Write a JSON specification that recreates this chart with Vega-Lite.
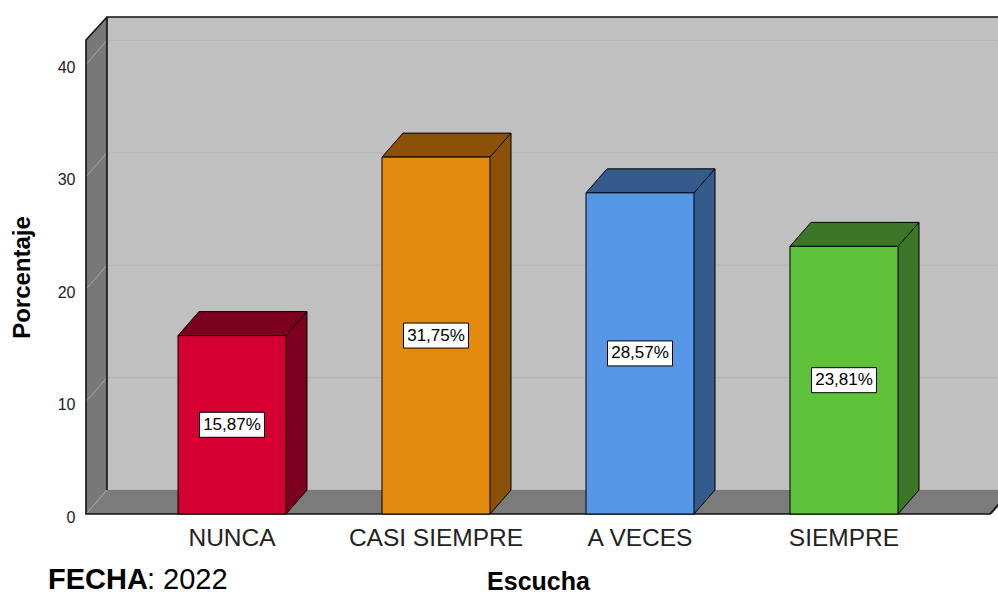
{
  "$schema": "https://vega.github.io/schema/vega-lite/v6.json",
  "width": 891,
  "height": 473,
  "autosize": {"type": "none"},
  "padding": {"left": 107, "top": 17, "right": 0, "bottom": 106},
  "background": "white",
  "config": {
    "view": {"fill": "#c0c0c0", "stroke": null},
    "font": "Liberation Sans",
    "locale": {"number": {"decimal": ",", "thousands": ".", "grouping": [3], "currency": ["", "%"]}},
    "axisY": {"grid": false, "domain": false, "ticks": false, "tickSize": 0, "tickCount": 5, "labelPadding": 32, "labelOffset": 27, "labelFontSize": 16, "labelColor": "#222222", "titleFontSize": 24, "titleFontWeight": "bold", "titleColor": "#000000", "titleX": -85, "titleY": 260, "titleAngle": 270, "titleBaseline": "middle", "titleAlign": "center"},
    "axisX": {"grid": false, "domain": false, "ticks": false, "tickSize": 0, "labelPadding": 36, "labelOffset": -21, "labelFontSize": 24.5, "labelColor": "#222222", "labelAngle": 0, "titleFontSize": 25, "titleFontWeight": "bold", "titleColor": "#000000", "titleX": 431, "titleY": 99, "titleBaseline": "alphabetic", "titleAlign": "center"}
  },
  "datasets": {
    "respuestas": [
      {"Escucha": "NUNCA", "Porcentaje": 15.87},
      {"Escucha": "CASI SIEMPRE", "Porcentaje": 31.75},
      {"Escucha": "A VECES", "Porcentaje": 28.57},
      {"Escucha": "SIEMPRE", "Porcentaje": 23.81}
    ],
    "marcas": [{"v": 0}, {"v": 10}, {"v": 20}, {"v": 30}, {"v": 40}],
    "ancla": [{"ref": "NUNCA"}]
  },
  "data": {"name": "respuestas"},
  "resolve": {"scale": {"y": "independent"}},
  "layer": [
    {
      "layer": [
        {
          "data": {"name": "marcas"},
          "mark": {"type": "rule", "color": "#b4b4b4", "strokeWidth": 1},
          "encoding": {
            "y": {"field": "v", "type": "quantitative", "title": "Porcentaje", "scale": {"domain": [0, 42.08], "nice": false, "zero": true}}
          }
        },
        {
          "data": {"name": "ancla"},
          "mark": {"type": "point", "shape": "M -167 24 L -146 0 L -146 -473 L -167 -450 Z", "size": 4, "filled": true, "opacity": 1, "color": "#787878", "strokeWidth": 0},
          "encoding": {
            "x": {"field": "ref", "type": "nominal", "title": "Escucha", "sort": null, "scale": {"paddingInner": 0, "paddingOuter": 0.1838, "align": 0.5867, "round": false}},
            "y": {"datum": 0, "type": "quantitative", "title": "Porcentaje"}
          }
        },
        {
          "data": {"name": "ancla"},
          "mark": {"type": "point", "shape": "M -167 24 L -146 0 L 760 0 L 739 24 Z", "size": 4, "filled": true, "opacity": 1, "color": "#7b7b7b", "strokeWidth": 0},
          "encoding": {
            "x": {"field": "ref", "type": "nominal", "title": "Escucha", "sort": null},
            "y": {"datum": 0, "type": "quantitative", "title": "Porcentaje"}
          }
        },
        {
          "data": {"name": "marcas"},
          "mark": {"type": "point", "shape": "M -167 24 L -146 0", "size": 4, "filled": false, "opacity": 1, "color": "#a8a8a8", "strokeWidth": 1},
          "encoding": {
            "x": {"datum": "NUNCA", "type": "nominal", "title": "Escucha"},
            "y": {"field": "v", "type": "quantitative", "title": "Porcentaje"}
          }
        },
        {
          "data": {"name": "ancla"},
          "mark": {"type": "point", "shape": "M -146 0 L -146 -473 L 760 -473 M -146 -473 L -167 -450 L -167 24 L 737 24 L 758 0", "size": 4, "filled": false, "opacity": 1, "color": "#111111", "strokeWidth": 1.6},
          "encoding": {
            "x": {"field": "ref", "type": "nominal", "title": "Escucha", "sort": null},
            "y": {"datum": 0, "type": "quantitative", "title": "Porcentaje"}
          }
        },
        {
          "data": {"name": "ancla"},
          "mark": {"type": "text", "text": "FECHA", "fontSize": 29, "fontWeight": "bold", "align": "left", "baseline": "alphabetic", "dx": -205, "dy": 99, "color": "#000000"},
          "encoding": {
            "x": {"field": "ref", "type": "nominal", "title": "Escucha", "sort": null},
            "y": {"datum": 0, "type": "quantitative", "title": "Porcentaje"}
          }
        },
        {
          "data": {"name": "ancla"},
          "mark": {"type": "text", "text": ": 2022", "fontSize": 29, "fontWeight": "normal", "align": "left", "baseline": "alphabetic", "dx": -106, "dy": 99, "color": "#000000"},
          "encoding": {
            "x": {"field": "ref", "type": "nominal", "title": "Escucha", "sort": null},
            "y": {"datum": 0, "type": "quantitative", "title": "Porcentaje"}
          }
        },
        {
          "mark": {"type": "bar", "width": 21, "xOffset": 43.5},
          "encoding": {
            "x": {"field": "Escucha", "type": "nominal", "title": "Escucha", "sort": null},
            "y": {"field": "Porcentaje", "type": "quantitative", "title": "Porcentaje"},
            "color": {"field": "Escucha", "type": "nominal", "legend": null, "scale": {"domain": ["NUNCA", "CASI SIEMPRE", "A VECES", "SIEMPRE"], "range": ["#7e0021", "#8b5207", "#345b8b", "#3c7627"]}}
          }
        },
        {
          "mark": {"type": "point", "shape": "M 33 0 L 33 24 L 54 0 Z", "size": 4, "filled": true, "opacity": 1, "strokeWidth": 0},
          "encoding": {
            "x": {"field": "Escucha", "type": "nominal", "title": "Escucha", "sort": null},
            "y": {"datum": 0, "type": "quantitative", "title": "Porcentaje"},
            "color": {"field": "Escucha", "type": "nominal", "legend": null}
          }
        },
        {
          "mark": {"type": "point", "shape": "M -75 24 L 33 24 L 54 0 L -54 0 Z", "size": 4, "filled": true, "opacity": 1, "stroke": "#000000", "strokeWidth": 1},
          "encoding": {
            "x": {"field": "Escucha", "type": "nominal", "title": "Escucha", "sort": null},
            "y": {"field": "Porcentaje", "type": "quantitative", "title": "Porcentaje"},
            "color": {"field": "Escucha", "type": "nominal", "legend": null}
          }
        },
        {
          "mark": {"type": "rule", "xOffset": 54, "color": "#000000", "strokeWidth": 1},
          "encoding": {
            "x": {"field": "Escucha", "type": "nominal", "title": "Escucha", "sort": null},
            "y": {"field": "Porcentaje", "type": "quantitative", "title": "Porcentaje"},
            "y2": {"datum": 0}
          }
        },
        {
          "mark": {"type": "point", "shape": "M 33 24 L 54 0", "size": 4, "filled": false, "opacity": 1, "color": "#000000", "strokeWidth": 1},
          "encoding": {
            "x": {"field": "Escucha", "type": "nominal", "title": "Escucha", "sort": null},
            "y": {"datum": 0, "type": "quantitative", "title": "Porcentaje"}
          }
        },
        {
          "mark": {"type": "bar", "width": 108, "xOffset": -21, "yOffset": 24, "y2Offset": 24, "stroke": "#000000", "strokeWidth": 1},
          "encoding": {
            "x": {"field": "Escucha", "type": "nominal", "title": "Escucha", "sort": null},
            "y": {"field": "Porcentaje", "type": "quantitative", "title": "Porcentaje"},
            "fill": {"field": "Escucha", "type": "nominal", "legend": null, "scale": {"domain": ["NUNCA", "CASI SIEMPRE", "A VECES", "SIEMPRE"], "range": ["#d50032", "#e38b0e", "#5597e6", "#5ec23a"]}}
          }
        }
      ]
    },
    {
      "layer": [
        {
          "mark": {"type": "point", "shape": "M -53.5 11.5 L 11.5 11.5 L 11.5 36.5 L -53.5 36.5 Z", "size": 4, "filled": true, "opacity": 1, "fill": "#ffffff", "stroke": "#000000", "strokeWidth": 1},
          "encoding": {
            "x": {"field": "Escucha", "type": "nominal", "title": "Escucha", "sort": null},
            "y": {"field": "Porcentaje", "type": "quantitative", "axis": null, "scale": {"domain": [0, 84.16], "nice": false, "zero": true}}
          }
        },
        {
          "mark": {"type": "text", "fontSize": 17, "align": "center", "baseline": "middle", "dx": -21, "dy": 24, "color": "#000000"},
          "encoding": {
            "x": {"field": "Escucha", "type": "nominal", "title": "Escucha", "sort": null},
            "y": {"field": "Porcentaje", "type": "quantitative", "axis": null},
            "text": {"field": "Porcentaje", "type": "quantitative", "format": "$.2f"}
          }
        }
      ]
    }
  ]
}
